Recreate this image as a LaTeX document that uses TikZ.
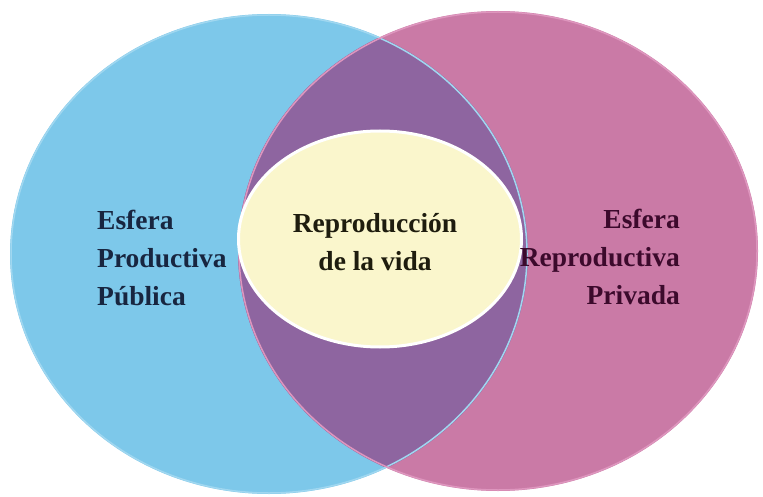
\documentclass[tikz,border=0pt]{standalone}
\usepackage{fontspec}
\setmainfont{Liberation Serif}
\usetikzlibrary{shapes.geometric}
\definecolor{blueE}{RGB}{125,200,234}
\definecolor{blueRim}{RGB}{160,215,240}
\definecolor{pinkE}{RGB}{202,122,166}
\definecolor{pinkRim}{RGB}{222,150,190}
\definecolor{purpleE}{RGB}{142,101,160}
\definecolor{yellowE}{RGB}{250,246,204}
\definecolor{txtL}{RGB}{24,38,64}
\definecolor{txtC}{RGB}{30,28,14}
\definecolor{txtR}{RGB}{60,10,44}
\tikzset{
  lbl/.style={font=\bfseries\fontsize{27.5}{38}\selectfont, inner sep=0pt},
  blueshape/.style={x radius=259, y radius=240},
  pinkshape/.style={x radius=260, y radius=240},
}
\begin{document}
\begin{tikzpicture}[x=1pt,y=-1pt]
\useasboundingbox[fill=white] (0,0) rectangle (763,497);
\coordinate (bc) at (269,254);
\coordinate (pc) at (498,251);
\fill[blueE] (bc) ellipse [blueshape];
\fill[pinkE] (pc) ellipse [pinkshape];
\begin{scope}
  \clip (bc) ellipse [blueshape];
  \fill[purpleE] (pc) ellipse [pinkshape];
\end{scope}
\draw[blueRim, line width=1.5pt] (bc) ellipse [x radius=258, y radius=239];
\draw[pinkRim, line width=1.5pt] (pc) ellipse [x radius=259, y radius=239];
\node[ellipse, fill=yellowE, draw=white, line width=3pt, minimum width=283pt, minimum height=216pt, inner sep=0pt] (core) at (380,239) {};
\node[lbl, text=txtC, align=center] (ctext) at (375,242) {Reproducción\\de la vida};
\node[lbl, text=txtL, align=left, anchor=west] (ltext) at (97,258) {Esfera\\Productiva\\Pública};
\node[lbl, text=txtR, align=right, anchor=east] (rtext) at (680,257) {Esfera\\Reproductiva\\Privada};
\end{tikzpicture}
\end{document}
